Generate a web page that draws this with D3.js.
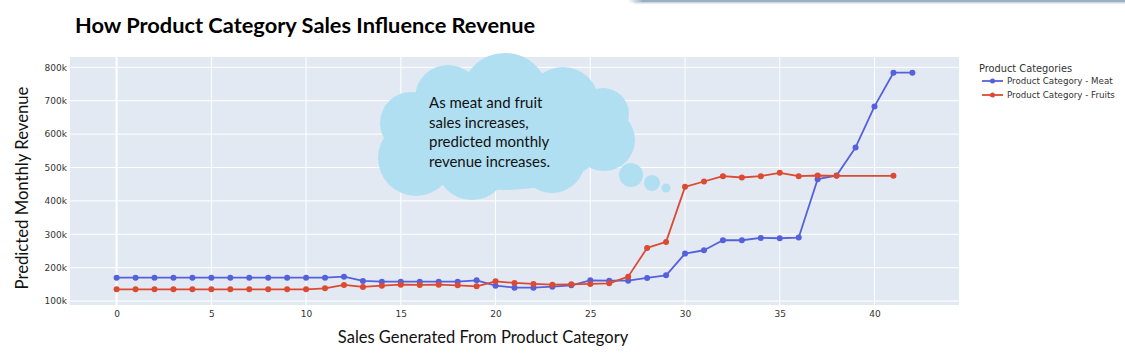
<!DOCTYPE html>
<html><head><meta charset="utf-8">
<script src="https://cdn.jsdelivr.net/npm/d3@7"></script>
<style>
html,body{margin:0;padding:0;background:#fff;}
svg{display:block;}
</style>
</head><body>
<svg id="chart" width="1125" height="357"></svg>
<script>
// ---- data ----
const meatX = [0,1,2,3,4,5,6,7,8,9,10,11,12,13,14,15,16,17,18,19,20,21,22,23,24,25,26,27,28,29,30,31,32,33,34,35,36,37,38,39,40,41,42];
const meatY = [170,170,170,170,170,170,170,170,170,170,170,170,173,160,158,158,158,158,158,162,146,140,140,143,147,162,161,161,169,177,242,252,282,282,289,288,290,465,476,560,683,784,784].map(v=>v*1000);
const fruitX = [0,1,2,3,4,5,6,7,8,9,10,11,12,13,14,15,16,17,18,19,20,21,22,23,24,25,26,27,28,29,30,31,32,33,34,35,36,37,38,41];
const fruitY = [135,135,135,135,135,135,135,135,135,135,135,138,148,142,146,149,148,149,147,144,159,154,151,149,150,151,153,173,259,277,442,458,474,470,474,484,474,476,475,475].map(v=>v*1000);
const xTicks = [0,5,10,15,20,25,30,35,40];
const yTicks = [100000,200000,300000,400000,500000,600000,700000,800000];
const seriesNames = ["Product Category - Meat","Product Category - Fruits"];
const colors = ["#5561da","#dc4a32"];
const titleText = "How Product Category Sales Influence Revenue";
const xTitle = "Sales Generated From Product Category";
const yTitle = "Predicted Monthly Revenue";
const legendTitle = "Product Categories";
const bubbleLines = ["As meat and fruit","sales increases,","predicted monthly","revenue increases."];

const svg = d3.select("#chart");
const L=70, R=959, T=57, B=305;
const x = d3.scaleLinear().domain([-2.46,44.46]).range([L,R]);
const y = d3.scaleLinear().domain([88000,831000]).range([B,T]);

// top-right decorative border
const defs = svg.append("defs");
const g1 = defs.append("linearGradient").attr("id","fadeL").attr("x1","0").attr("x2","1");
g1.append("stop").attr("offset","0").attr("stop-color","#9aaec4").attr("stop-opacity",0);
g1.append("stop").attr("offset","0.03").attr("stop-color","#9aaec4").attr("stop-opacity",1);
svg.append("rect").attr("x",628).attr("y",0).attr("width",497).attr("height",2.5).attr("fill","url(#fadeL)");
const g2 = defs.append("linearGradient").attr("id","fadeD").attr("x1","0").attr("x2","0").attr("y1","0").attr("y2","1");
g2.append("stop").attr("offset","0").attr("stop-color","#c9d4e0").attr("stop-opacity",1);
g2.append("stop").attr("offset","1").attr("stop-color","#ffffff").attr("stop-opacity",0);
svg.append("rect").attr("x",634).attr("y",2.5).attr("width",491).attr("height",3).attr("fill","url(#fadeD)");

// plot background
svg.append("rect").attr("x",L).attr("y",T).attr("width",R-L).attr("height",B-T).attr("fill","#e3e9f3");

// grid
const grid = svg.append("g");
grid.selectAll(".gx").data(xTicks).join("line")
  .attr("x1",d=>x(d)).attr("x2",d=>x(d)).attr("y1",T).attr("y2",B)
  .attr("stroke","#fff").attr("stroke-width",d=>d===0?2:1);
grid.selectAll(".gy").data(yTicks).join("line")
  .attr("x1",L).attr("x2",R).attr("y1",d=>y(d)).attr("y2",d=>y(d))
  .attr("stroke","#fff").attr("stroke-width",1);

// axes
const fmt = d => (d/1000)+"k";
const xAxis = svg.append("g").attr("transform",`translate(0,${B})`)
  .call(d3.axisBottom(x).tickValues(xTicks).tickSize(0).tickPadding(6));
const yAxis = svg.append("g").attr("transform",`translate(${L},0)`)
  .call(d3.axisLeft(y).tickValues(yTicks).tickFormat(fmt).tickSize(0).tickPadding(3));
[xAxis,yAxis].forEach(a=>{
  a.select(".domain").remove();
  a.selectAll("text").attr("font-family","DejaVu Sans, Verdana, sans-serif").attr("font-size",9).style("fill","#333");
});

// series
const series = [
  {xs:meatX, ys:meatY, c:colors[0]},
  {xs:fruitX, ys:fruitY, c:colors[1]}
];
const line = d3.line().x(d=>x(d[0])).y(d=>y(d[1]));
series.forEach(s=>{
  const pts = s.xs.map((v,i)=>[v,s.ys[i]]);
  svg.append("path").datum(pts).attr("d",line).attr("fill","none")
    .attr("stroke",s.c).attr("stroke-width",1.8).attr("stroke-linejoin","round");
  svg.append("g").selectAll("circle").data(pts).join("circle")
    .attr("cx",d=>x(d[0])).attr("cy",d=>y(d[1])).attr("r",3).attr("fill",s.c);
});

// thought bubble
const cloudColor = "#b1dff2";
const cloud = svg.append("g").attr("fill",cloudColor);
const blobs = [
  [505,97,44],[448,98,33],[411,123,31],[563,103,36],[603,114,26],[604,140,31],
  [552,160,33],[472,164,36],[416,158,38]
];
cloud.selectAll("circle.b").data(blobs).join("circle")
  .attr("cx",d=>d[0]).attr("cy",d=>d[1]).attr("r",d=>d[2]);
cloud.append("ellipse").attr("cx",505).attr("cy",130).attr("rx",108).attr("ry",60);
const dots = [[631,175,12],[652,183,8],[666,188,4.5]];
cloud.selectAll("circle.d").data(dots).join("circle")
  .attr("cx",d=>d[0]).attr("cy",d=>d[1]).attr("r",d=>d[2]);
svg.append("g").selectAll("text").data(bubbleLines).join("text")
  .attr("x",429).attr("y",(d,i)=>108+i*19.7)
  .attr("font-family","Lato, sans-serif").attr("font-size",15).attr("fill","#111")
  .text(d=>d);

// titles
svg.append("text").attr("x",75).attr("y",33).attr("font-family","Lato, sans-serif")
  .attr("font-weight","bold").attr("font-size",21.8).attr("fill","#000").text(titleText);
svg.append("text").attr("transform","translate(28,188) rotate(-90)").attr("text-anchor","middle")
  .attr("font-family","Lato, sans-serif").attr("font-size",16.7).attr("fill","#111").text(yTitle);
svg.append("text").attr("x",483).attr("y",343).attr("text-anchor","middle")
  .attr("font-family","Lato, sans-serif").attr("font-size",16.5).attr("fill","#111").text(xTitle);

// legend
const lg = svg.append("g");
lg.append("text").attr("x",979).attr("y",72).attr("font-family","DejaVu Sans, Verdana, sans-serif")
  .attr("font-size",9.8).attr("fill","#333").text(legendTitle);
seriesNames.forEach((n,i)=>{
  const yy = 81+i*14;
  lg.append("line").attr("x1",982).attr("x2",1003).attr("y1",yy).attr("y2",yy)
    .attr("stroke",colors[i]).attr("stroke-width",1.8);
  lg.append("circle").attr("cx",992.5).attr("cy",yy).attr("r",2.5).attr("fill",colors[i]);
  lg.append("text").attr("x",1007).attr("y",yy+3).attr("font-family","DejaVu Sans, Verdana, sans-serif")
    .attr("font-size",8.7).attr("fill","#333").text(n);
});
</script>
</body></html>
